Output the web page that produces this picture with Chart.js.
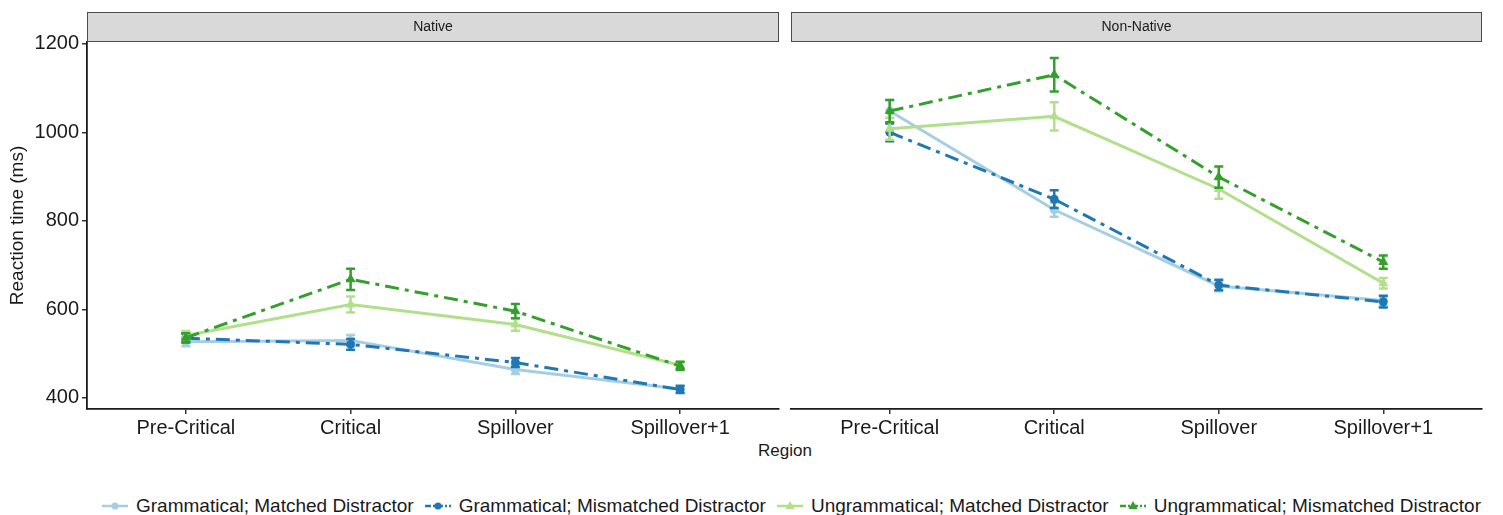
<!DOCTYPE html>
<html>
<head>
<meta charset="utf-8">
<script src="https://cdn.jsdelivr.net/npm/chart.js@4.4.1/dist/chart.umd.min.js"></script>
<style>
  html, body { margin: 0; padding: 0; background: #fff; width: 1503px; height: 515px; overflow: hidden;
               font-family: "Liberation Sans", Arial, sans-serif; }
  #leftWrap  { position: absolute; left: 0;     top: 0; width: 785px; height: 440px; }
  #rightWrap { position: absolute; left: 785px; top: 0; width: 718px; height: 440px; }
  #xtitle { position: absolute; left: 785px; top: 441px; transform: translateX(-50%);
            font-size: 17px; color: #1a1a1a; white-space: nowrap; }
  #legend { position: absolute; top: 495px; left: 791px; transform: translateX(-50%);
            display: flex; align-items: center; white-space: nowrap; font-size: 19px; color: #1a1a1a; }
  .item { display: flex; align-items: center; margin: 0 5px; }
  .item svg { margin-right: 7px; }
</style>
</head>
<body>
<div id="leftWrap"><canvas id="nativeChart"></canvas></div>
<div id="rightWrap"><canvas id="nonNativeChart"></canvas></div>
<div id="xtitle">Region</div>
<div id="legend"></div>

<script>
// Regions on the x axis and reaction-time ticks on the y axis
const regions = ['Pre-Critical', 'Critical', 'Spillover', 'Spillover+1'];
const yTicks = [400, 600, 800, 1000, 1200];
const panels = ['Native', 'Non-Native'];

const seriesNames = [
  'Grammatical; Matched Distractor',
  'Grammatical; Mismatched Distractor',
  'Ungrammatical; Matched Distractor',
  'Ungrammatical; Mismatched Distractor'
];

// Mean reaction times (ms), Native group
const gramMatchedNative      = [527, 530, 464, 420];
const gramMismatchedNative   = [535, 521, 480, 419];
const ungramMatchedNative    = [541, 611, 566, 474];
const ungramMismatchedNative = [536, 668, 596, 472];

// Standard errors (ms), Native group
const gramMatchedNativeSE      = [10, 12, 10, 8];
const gramMismatchedNativeSE   = [10, 12, 10, 8];
const ungramMatchedNativeSE    = [10, 18, 14, 9];
const ungramMismatchedNativeSE = [10, 24, 16, 9];

// Mean reaction times (ms), Non-Native group
const gramMatchedNonNative      = [1048, 825, 653, 620];
const gramMismatchedNonNative   = [1000, 849, 655, 617];
const ungramMatchedNonNative    = [1008, 1036, 872, 659];
const ungramMismatchedNonNative = [1048, 1130, 899, 707];

// Standard errors (ms), Non-Native group
const gramMatchedNonNativeSE      = [25, 16, 12, 12];
const gramMismatchedNonNativeSE   = [20, 20, 12, 13];
const ungramMatchedNonNativeSE    = [25, 32, 22, 12];
const ungramMismatchedNonNativeSE = [25, 38, 24, 15];

// Visual style per condition
const colors = ['#a6cee3', '#1f78b4', '#b2df8a', '#33a02c'];
const dashes = [[], [14, 6, 4, 6], [], [14, 6, 4, 6]];
const shapes = ['circle', 'circle', 'triangle', 'triangle'];
const radii  = [4, 4, 5, 5];

Chart.defaults.font.family = '"Liberation Sans", Arial, sans-serif';
Chart.defaults.color = '#1a1a1a';

// Vertical error bars with caps, drawn right after each line series
const errorBarPlugin = {
  id: 'errorBars',
  afterDatasetDraw(chart, args) {
    const ds = chart.data.datasets[args.index];
    if (!ds.errors) return;
    const { ctx } = chart;
    const xs = chart.scales.x, ys = chart.scales.y;
    const cap = 4.5;
    ctx.save();
    ctx.strokeStyle = ds.borderColor;
    ctx.lineWidth = 2.5;
    ctx.setLineDash([]);
    ds.data.forEach((pt, i) => {
      const x = xs.getPixelForValue(pt.x);
      const yTop = ys.getPixelForValue(pt.y + ds.errors[i]);
      const yBot = ys.getPixelForValue(pt.y - ds.errors[i]);
      ctx.beginPath();
      ctx.moveTo(x, yTop); ctx.lineTo(x, yBot);
      ctx.moveTo(x - cap, yTop); ctx.lineTo(x + cap, yTop);
      ctx.moveTo(x - cap, yBot); ctx.lineTo(x + cap, yBot);
      ctx.stroke();
    });
    ctx.restore();
  }
};

// Grey facet strip above each panel
const stripPlugin = {
  id: 'strip',
  afterDraw(chart, args, opts) {
    const { ctx, chartArea } = chart;
    const left = chartArea.left, right = chartArea.right;
    ctx.save();
    ctx.fillStyle = '#d9d9d9';
    ctx.strokeStyle = '#4d4d4d';
    ctx.lineWidth = 1;
    ctx.fillRect(left, 12, right - left, 29);
    ctx.strokeRect(left + 0.5, 12.5, right - left - 1, 29);
    ctx.fillStyle = '#1a1a1a';
    ctx.font = '14px "Liberation Sans", Arial, sans-serif';
    ctx.textAlign = 'center';
    ctx.textBaseline = 'middle';
    ctx.fillText(opts.text, (left + right) / 2, 27);
    ctx.restore();
  }
};

function buildDatasets(means, errs) {
  return means.map((vals, s) => ({
    label: seriesNames[s],
    data: vals.map((v, i) => ({ x: i + 1, y: v })),
    errors: errs[s],
    borderColor: colors[s],
    backgroundColor: colors[s],
    pointBackgroundColor: colors[s],
    pointBorderColor: colors[s],
    borderWidth: 3,
    borderDash: dashes[s],
    pointStyle: shapes[s],
    pointRadius: radii[s],
    pointBorderWidth: 1,
    tension: 0,
    order: 3 - s
  }));
}

function makeChart(canvasId, title, means, errs, showY, padding) {
  return new Chart(document.getElementById(canvasId), {
    type: 'line',
    data: { datasets: buildDatasets(means, errs) },
    plugins: [errorBarPlugin, stripPlugin],
    options: {
      responsive: true,
      maintainAspectRatio: false,
      animation: false,
      layout: { padding: padding },
      plugins: {
        legend: { display: false },
        tooltip: { enabled: false },
        strip: { text: title }
      },
      scales: {
        x: {
          type: 'linear',
          min: 0.4,
          max: 4.6,
          afterBuildTicks: (scale) => { scale.ticks = regions.map((r, i) => ({ value: i + 1 })); },
          afterFit: (scale) => { scale.height = 31; },
          ticks: {
            autoSkip: false,
            maxRotation: 0,
            padding: 2,
            font: { size: 20 },
            color: '#1a1a1a',
            callback: (v) => regions[Math.round(v) - 1]
          },
          grid: { drawOnChartArea: false, drawTicks: true, tickLength: 5, color: '#333', lineWidth: 1.5 },
          border: { display: true, color: '#1a1a1a', width: 1.8 }
        },
        y: {
          display: showY,
          min: 375,
          max: 1204,
          afterBuildTicks: (scale) => { scale.ticks = yTicks.map(v => ({ value: v })); },
          afterFit: (scale) => { scale.width = showY ? 87 : 0; },
          ticks: { padding: 3, font: { size: 20 }, color: '#1a1a1a', callback: (v) => String(v) },
          grid: { drawOnChartArea: false, drawTicks: true, tickLength: 5, color: '#333', lineWidth: 1.5 },
          border: { display: true, color: '#1a1a1a', width: 1.8 },
          title: {
            display: true,
            text: 'Reaction time (ms)',
            font: { size: 19 },
            color: '#1a1a1a',
            padding: { top: 6, bottom: 0 }
          }
        }
      }
    }
  });
}

makeChart('nativeChart', panels[0],
  [gramMatchedNative, gramMismatchedNative, ungramMatchedNative, ungramMismatchedNative],
  [gramMatchedNativeSE, gramMismatchedNativeSE, ungramMatchedNativeSE, ungramMismatchedNativeSE],
  true, { left: 0, right: 3, top: 42, bottom: 0 });

makeChart('nonNativeChart', panels[1],
  [gramMatchedNonNative, gramMismatchedNonNative, ungramMatchedNonNative, ungramMismatchedNonNative],
  [gramMatchedNonNativeSE, gramMismatchedNonNativeSE, ungramMatchedNonNativeSE, ungramMismatchedNonNativeSE],
  false, { left: 5, right: 21, top: 42, bottom: 0 });

// Legend keys: a short line segment with the condition's marker
const legend = document.getElementById('legend');
seriesNames.forEach((name, s) => {
  const item = document.createElement('div');
  item.className = 'item';
  const dash = dashes[s].length ? 'stroke-dasharray="6 2 2 2"' : '';
  const marker = shapes[s] === 'circle'
    ? `<circle cx="14" cy="8" r="3.5" fill="${colors[s]}"/>`
    : `<polygon points="14,3 18.5,11 9.5,11" fill="${colors[s]}"/>`;
  item.innerHTML =
    `<svg width="28" height="16" viewBox="0 0 28 16">
       <line x1="1" y1="8" x2="27" y2="8" stroke="${colors[s]}" stroke-width="2.5" ${dash}/>
       ${marker}
     </svg><span>${name}</span>`;
  legend.appendChild(item);
});
</script>
</body>
</html>
